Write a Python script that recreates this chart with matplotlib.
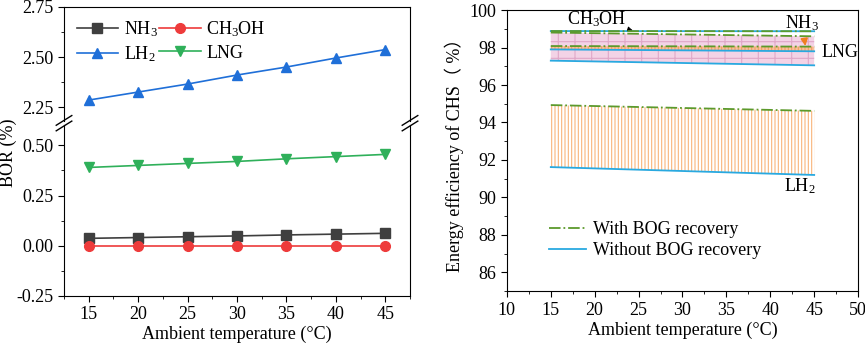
import matplotlib.pyplot as plt
from matplotlib.ticker import MultipleLocator

plt.rcParams["font.family"] = ["Liberation Serif", "Noto Sans CJK SC"]
plt.rcParams["font.size"] = 13
plt.rcParams["mathtext.fontset"] = "custom"
plt.rcParams["mathtext.rm"] = "Liberation Serif"
plt.rcParams["mathtext.it"] = "Liberation Serif:italic"
plt.rcParams["hatch.linewidth"] = 0.8

# left panel: BOR vs ambient temperature
temps = [15, 20, 25, 30, 35, 40, 45]
bor_nh3 = [0.037, 0.041, 0.045, 0.049, 0.054, 0.058, 0.062]
bor_ch3oh = [0, 0, 0, 0, 0, 0, 0]
bor_lh2 = [2.285, 2.325, 2.365, 2.41, 2.45, 2.495, 2.537]
bor_lng = [0.39, 0.40, 0.41, 0.42, 0.433, 0.444, 0.455]

# right panel: energy efficiency (end points at 15 and 45 C)
t_ends = [15, 45]
lng_with = [98.8, 98.6]
lng_without = [97.3, 97.05]
nh3_with = [98.08, 98.05]
nh3_without = [97.9, 97.8]
ch3oh_with = [98.88, 98.87]
ch3oh_without = [98.88, 98.87]
lh2_with = [94.93, 94.62]
lh2_without = [91.62, 91.2]

fig = plt.figure(figsize=(8.65, 3.47), dpi=100)
ax_top = fig.add_axes([0.074, 0.651, 0.4, 0.329])
ax_bot = fig.add_axes([0.074, 0.147, 0.4, 0.492])

styles = [
    (bor_nh3, "NH$_3$", "#3f3f3f", "s"),
    (bor_lh2, "LH$_2$", "#1f6fd8", "^"),
    (bor_ch3oh, "CH$_3$OH", "#ee3b3b", "o"),
    (bor_lng, "LNG", "#2fb05a", "v"),
]
for ax in (ax_top, ax_bot):
    for vals, lab, col, mk in styles:
        ax.plot(temps, vals, color=col, marker=mk, markersize=7, lw=1.2, label=lab)
    ax.set_xlim(12.5, 47.5)
    ax.xaxis.set_major_locator(MultipleLocator(5))
    ax.xaxis.set_minor_locator(MultipleLocator(2.5))
    ax.yaxis.set_major_locator(MultipleLocator(0.25))
    ax.yaxis.set_minor_locator(MultipleLocator(0.125))
    ax.tick_params(which="both", direction="out", right=False, top=False)
    ax.tick_params(which="minor", length=2.5)
    ax.tick_params(which="major", length=4)

ax_top.set_ylim(2.18, 2.75)
ax_bot.set_ylim(-0.25, 0.6)
ax_top.set_yticks([2.25, 2.5, 2.75])
ax_top.set_yticklabels(["2.25", "2.50", "2.75"])
ax_bot.set_yticks([-0.25, 0, 0.25, 0.5])
ax_bot.set_yticklabels(["-0.25", "0.00", "0.25", "0.50"])
ax_top.spines["bottom"].set_visible(False)
ax_bot.spines["top"].set_visible(False)
ax_top.tick_params(axis="x", which="both", bottom=False, labelbottom=False)
ax_bot.set_xlabel("Ambient temperature (\u00b0C)", labelpad=2)
fig.text(0.0, 0.56, "BOR (%)", rotation=90, va="center", ha="left")

# break marks on both vertical spines
for xb in (0, 1):
    for dy in (-0.008, 0.008):
        fig.add_artist(plt.Line2D(
            [0.074 + 0.4 * xb - 0.009, 0.074 + 0.4 * xb + 0.009],
            [0.645 + dy - 0.014, 0.645 + dy + 0.014],
            color="black", lw=1, transform=fig.transFigure))

h, l = ax_top.get_legend_handles_labels()
ax_top.legend(h, l, ncol=2, loc="upper left", frameon=False, handlelength=2.3,
              columnspacing=0.1, handletextpad=0.3, labelspacing=0.3,
              borderaxespad=0.3)

# right panel
ax2 = fig.add_axes([0.586, 0.161, 0.406, 0.81])
green = "#5c9a2c"
blue = "#29a9e0"

ax2.fill_between(t_ends, lng_with, lng_without, facecolor="#f3d3e6",
                 edgecolor="#e0a8c8", hatch="+", lw=0, zorder=1)
ax2.fill_between(t_ends, nh3_with, nh3_without, facecolor="#f8c09a",
                 edgecolor="#f0a060", hatch="|||||", lw=0, zorder=2)
ax2.fill_between(t_ends, lh2_with, lh2_without, facecolor="white",
                 edgecolor="#f9b47a", hatch="|||||", lw=0, zorder=1)

for w, wo in [(ch3oh_with, ch3oh_without), (lng_with, lng_without),
              (nh3_with, nh3_without), (lh2_with, lh2_without)]:
    ax2.plot(t_ends, wo, color=blue, lw=1.3, zorder=3)
    ax2.plot(t_ends, w, color=green, lw=1.3, ls="-.", zorder=4)

ax2.plot([], [], color=green, lw=1.3, ls="-.", label="With BOG recovery")
ax2.plot([], [], color=blue, lw=1.3, label="Without BOG recovery")
ax2.legend(loc="lower left", bbox_to_anchor=(0.075, 0.057), frameon=False,
           handlelength=2.0, handletextpad=0.4, labelspacing=0.2, fontsize=13)

ax2.annotate("CH$_3$OH", xy=(24.3, 98.92), xytext=(20.2, 99.5), ha="center",
             va="center", fontsize=13,
             arrowprops=dict(arrowstyle="-|>", color="black", lw=0.6,
                             mutation_scale=7, shrinkA=2, shrinkB=0))
ax2.annotate("NH$_3$", xy=(44.0, 98.08), xytext=(43.6, 99.3), ha="center",
             va="center", fontsize=13, zorder=6,
             arrowprops=dict(arrowstyle="-|>", color="#f07f20", lw=1.3,
                             mutation_scale=10, shrinkA=3, shrinkB=0))
ax2.text(45.8, 97.75, "LNG", ha="left", va="center", fontsize=13)
ax2.text(43.4, 90.6, "LH$_2$", ha="center", va="center", fontsize=13)

ax2.set_xlim(10, 50)
ax2.set_ylim(85, 100)
ax2.xaxis.set_major_locator(MultipleLocator(5))
ax2.xaxis.set_minor_locator(MultipleLocator(2.5))
ax2.yaxis.set_minor_locator(MultipleLocator(1))
ax2.set_yticks([86, 88, 90, 92, 94, 96, 98, 100])
ax2.tick_params(which="both", direction="out", right=False, top=False)
ax2.tick_params(which="minor", length=2.5)
ax2.tick_params(which="major", length=4)
ax2.set_xlabel("Ambient temperature (\u00b0C)", labelpad=2)
ax2.set_ylabel("Energy efficiency of CHS\uff08 %\uff09", labelpad=4)

fig.savefig("out.png", dpi=100)
